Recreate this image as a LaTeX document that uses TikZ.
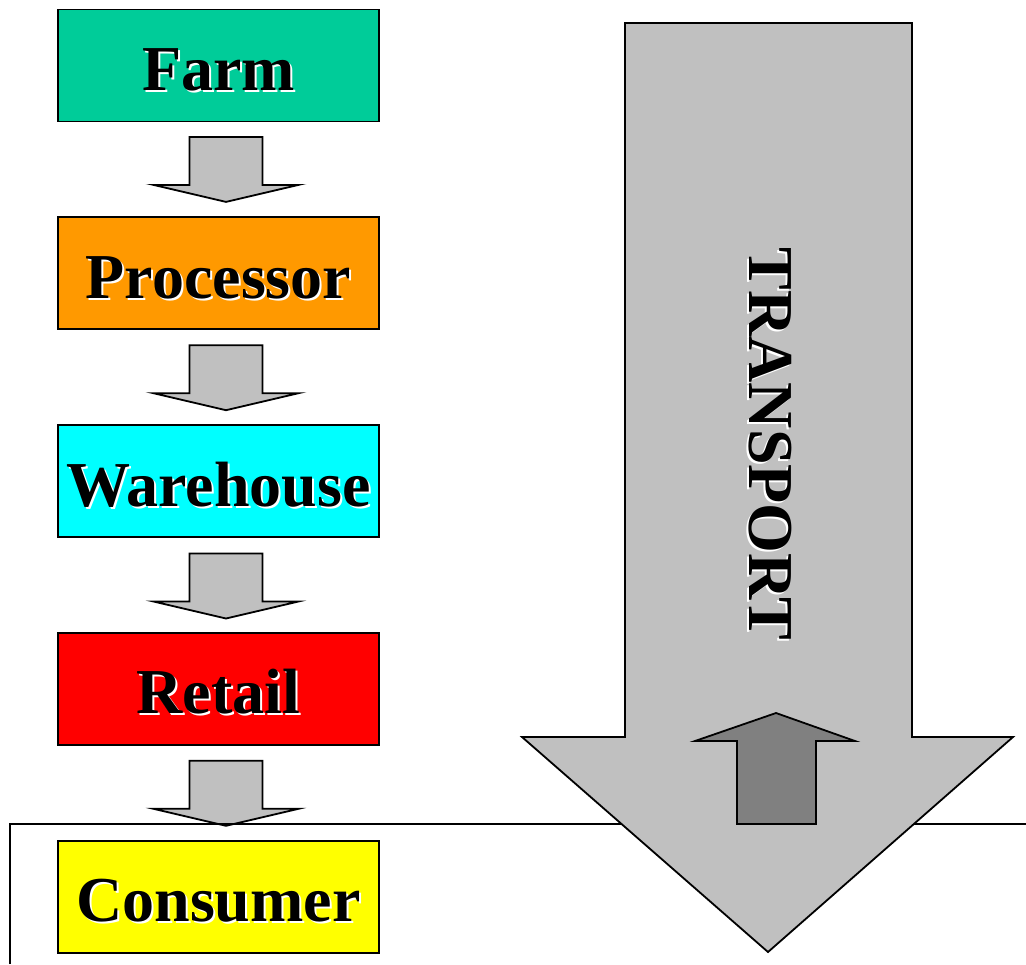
\documentclass[tikz,border=0pt]{standalone}
\usepackage{fontspec}
\setmainfont{Liberation Serif}
\usetikzlibrary{positioning,calc}

\definecolor{farmgreen}{HTML}{00CC99}
\definecolor{procorange}{HTML}{FF9900}
\definecolor{whcyan}{HTML}{00FFFF}
\definecolor{retailred}{HTML}{FF0000}
\definecolor{consyellow}{HTML}{FFFF00}
\definecolor{arrowgray}{HTML}{C0C0C0}
\definecolor{upgray}{HTML}{808080}

% white drop shadow behind a label
\newcommand{\shadowed}[1]{\rlap{\kern1pt\raisebox{-1pt}{\color{white}#1}}#1}

\begin{document}
\begin{tikzpicture}[x=0.5pt,y=-0.5pt,
    stage/.style={draw,line width=0.9pt,minimum width=160.5pt,minimum height=56pt,
      inner sep=0pt,text height=25pt,text depth=0pt,
      font=\fontsize{32}{36}\selectfont\bfseries},
    blockfill/.style={draw,line width=0.9pt,line join=miter,fill=#1},
    pics/downarrow/.style={code={
      \draw[blockfill=arrowgray] (-36.5,0) -- (36.5,0) -- (36.5,48) -- (72.5,48)
        -- (0,65) -- (-72.5,48) -- (-36.5,48) -- cycle;}}]

    \useasboundingbox (0,0) rectangle (1026,964);

    \node[stage,fill=farmgreen] (farm) at (218.5,65.5) {\shadowed{Farm}};
    \node[stage,fill=procorange,below=47pt of farm] (processor) {\shadowed{Processor}};
    \node[stage,fill=whcyan,below=47pt of processor] (warehouse) {\shadowed{Warehouse}};
    \node[stage,fill=retailred,below=47pt of warehouse] (retail) {\shadowed{Retail}};
    \node[stage,fill=consyellow,below=47pt of retail] (consumer) {\shadowed{Consumer}};

    \pic at ($(farm.south)+(7.5,14.5)$) {downarrow};
    \pic at ($(processor.south)+(7.5,15)$) {downarrow};
    \pic at ($(warehouse.south)+(7.5,15.5)$) {downarrow};
    \pic at ($(retail.south)+(7.5,15)$) {downarrow};

    % consumer frame
    \draw[line width=0.9pt] (10,964) -- (10,824) -- (1026,824);

    % transport
    \draw[blockfill=arrowgray] (625,23) -- (912,23) -- (912,737) -- (1013,737)
        -- (768,952) -- (522,737) -- (625,737) -- cycle;
    \draw[blockfill=upgray] (737,824) -- (737,741) -- (695,741) -- (776,713)
        -- (855,741) -- (816,741) -- (816,824) -- cycle;

    \node[rotate=-90,font=\fontsize{32}{36}\selectfont\bfseries] (transport)
        at (769,444) {\shadowed{TRANSPORT}};
\end{tikzpicture}
\end{document}
